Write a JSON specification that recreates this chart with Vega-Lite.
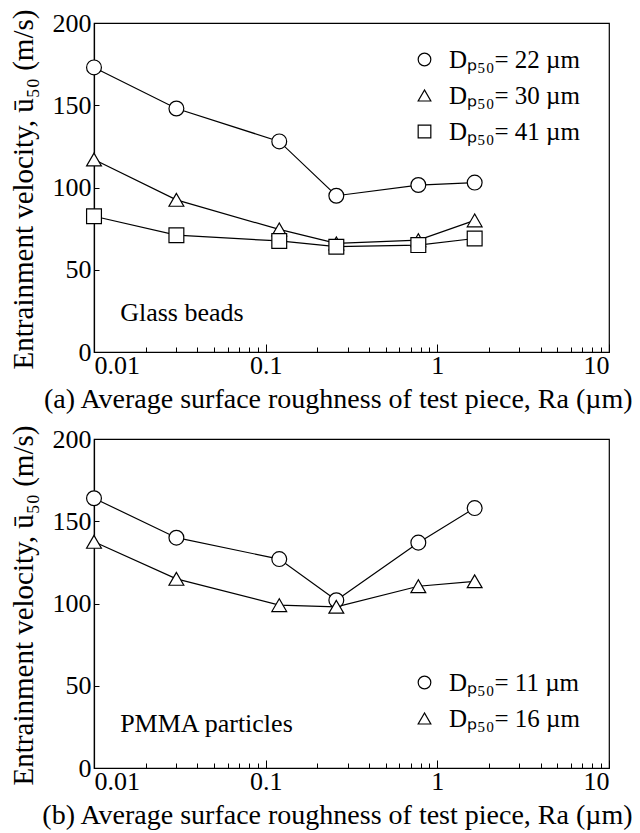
{
  "$schema": "https://vega.github.io/schema/vega-lite/v6.json",
  "padding": {"left": 8, "top": 8, "right": 5, "bottom": 5},
  "spacing": 10,
  "datasets": {
    "glass": [
      {"ra": 0.01, "u": 173, "series": "Dₚ₅₀= 22 µm"},
      {"ra": 0.0302, "u": 148, "series": "Dₚ₅₀= 22 µm"},
      {"ra": 0.12, "u": 128, "series": "Dₚ₅₀= 22 µm"},
      {"ra": 0.258, "u": 95, "series": "Dₚ₅₀= 22 µm"},
      {"ra": 0.775, "u": 101.5, "series": "Dₚ₅₀= 22 µm"},
      {"ra": 1.65, "u": 103, "series": "Dₚ₅₀= 22 µm"},
      {"ra": 0.01, "u": 117, "series": "Dₚ₅₀= 30 µm"},
      {"ra": 0.0302, "u": 92.5, "series": "Dₚ₅₀= 30 µm"},
      {"ra": 0.12, "u": 74.5, "series": "Dₚ₅₀= 30 µm"},
      {"ra": 0.258, "u": 66, "series": "Dₚ₅₀= 30 µm"},
      {"ra": 0.775, "u": 68, "series": "Dₚ₅₀= 30 µm"},
      {"ra": 1.65, "u": 80, "series": "Dₚ₅₀= 30 µm"},
      {"ra": 0.01, "u": 82.5, "series": "Dₚ₅₀= 41 µm"},
      {"ra": 0.0302, "u": 71, "series": "Dₚ₅₀= 41 µm"},
      {"ra": 0.12, "u": 67.5, "series": "Dₚ₅₀= 41 µm"},
      {"ra": 0.258, "u": 64, "series": "Dₚ₅₀= 41 µm"},
      {"ra": 0.775, "u": 65, "series": "Dₚ₅₀= 41 µm"},
      {"ra": 1.65, "u": 69, "series": "Dₚ₅₀= 41 µm"}
    ],
    "pmma": [
      {"ra": 0.01, "u": 164, "series": "Dₚ₅₀= 11 µm"},
      {"ra": 0.0302, "u": 140, "series": "Dₚ₅₀= 11 µm"},
      {"ra": 0.12, "u": 127, "series": "Dₚ₅₀= 11 µm"},
      {"ra": 0.258, "u": 102, "series": "Dₚ₅₀= 11 µm"},
      {"ra": 0.775, "u": 137, "series": "Dₚ₅₀= 11 µm"},
      {"ra": 1.65, "u": 158, "series": "Dₚ₅₀= 11 µm"},
      {"ra": 0.01, "u": 137.5, "series": "Dₚ₅₀= 16 µm"},
      {"ra": 0.0302, "u": 115, "series": "Dₚ₅₀= 16 µm"},
      {"ra": 0.12, "u": 99, "series": "Dₚ₅₀= 16 µm"},
      {"ra": 0.258, "u": 98, "series": "Dₚ₅₀= 16 µm"},
      {"ra": 0.775, "u": 110.5, "series": "Dₚ₅₀= 16 µm"},
      {"ra": 1.65, "u": 113.5, "series": "Dₚ₅₀= 16 µm"}
    ]
  },
  "resolve": {"scale": {"shape": "independent"}, "legend": {"shape": "independent"}},
  "vconcat": [
    {
      "width": 515,
      "height": 329,
      "data": {"name": "glass"},
      "layer": [
        {
          "mark": {"type": "line", "color": "black", "strokeWidth": 1.2},
          "encoding": {
            "x": {"field": "ra", "type": "quantitative", "scale": {"type": "log", "domain": [0.01, 10], "nice": false},
              "axis": {"title": "(a) Average surface roughness of test piece, Ra (µm)",
                "values": [0.01,0.02,0.03,0.04,0.05,0.06,0.07,0.08,0.09,0.1,0.2,0.3,0.4,0.5,0.6,0.7,0.8,0.9,1,2,3,4,5,6,7,8,9,10],
                "labelExpr": "abs(log(datum.value)/LN10 - round(log(datum.value)/LN10)) < 0.001 ? format(datum.value, '~g') : ''",
                "tickSize": {"condition": {"test": "abs(log(datum.value)/LN10 - round(log(datum.value)/LN10)) < 0.001", "value": -8}, "value": -5},
                "titleX": 538, "titleY": 55, "titleAlign": "right", "titleBaseline": "alphabetic"}},
            "y": {"field": "u", "type": "quantitative", "scale": {"domain": [0, 200], "nice": false},
              "axis": {"title": "Entrainment velocity, ū₅₀ (m/s)", "values": [0, 50, 100, 150, 200], "tickSize": -5, "titleFontSize": 29,
                "titleX": -62, "titleY": 166, "titleAlign": "center", "titleBaseline": "alphabetic", "titleAngle": -90}},
            "detail": {"field": "series"}
          }
        },
        {
          "mark": {"type": "point", "filled": false, "fill": "white", "color": "black", "strokeWidth": 1.2, "opacity": 1, "size": 220},
          "encoding": {
            "x": {"field": "ra", "type": "quantitative"},
            "y": {"field": "u", "type": "quantitative"},
            "shape": {"field": "series", "type": "nominal",
              "scale": {"domain": ["Dₚ₅₀= 22 µm", "Dₚ₅₀= 30 µm", "Dₚ₅₀= 41 µm"], "range": ["circle", "triangle-up", "square"]},
              "legend": {"orient": "none", "legendX": 318, "legendY": 24, "title": null}}
          }
        },
        {
          "data": {"values": [{}]},
          "mark": {"type": "text", "align": "left", "baseline": "middle", "fontSize": 26, "font": "Liberation Serif"},
          "encoding": {"x": {"datum": 0.0142, "type": "quantitative"}, "y": {"datum": 24, "type": "quantitative"}, "text": {"value": "Glass beads"}}
        }
      ]
    },
    {
      "width": 515,
      "height": 329,
      "data": {"name": "pmma"},
      "layer": [
        {
          "mark": {"type": "line", "color": "black", "strokeWidth": 1.2},
          "encoding": {
            "x": {"field": "ra", "type": "quantitative", "scale": {"type": "log", "domain": [0.01, 10], "nice": false},
              "axis": {"title": "(b) Average surface roughness of test piece, Ra (µm)",
                "values": [0.01,0.02,0.03,0.04,0.05,0.06,0.07,0.08,0.09,0.1,0.2,0.3,0.4,0.5,0.6,0.7,0.8,0.9,1,2,3,4,5,6,7,8,9,10],
                "labelExpr": "abs(log(datum.value)/LN10 - round(log(datum.value)/LN10)) < 0.001 ? format(datum.value, '~g') : ''",
                "tickSize": {"condition": {"test": "abs(log(datum.value)/LN10 - round(log(datum.value)/LN10)) < 0.001", "value": -8}, "value": -5},
                "titleX": 538, "titleY": 55, "titleAlign": "right", "titleBaseline": "alphabetic"}},
            "y": {"field": "u", "type": "quantitative", "scale": {"domain": [0, 200], "nice": false},
              "axis": {"title": "Entrainment velocity, ū₅₀ (m/s)", "values": [0, 50, 100, 150, 200], "tickSize": -5, "titleFontSize": 29,
                "titleX": -62, "titleY": 166, "titleAlign": "center", "titleBaseline": "alphabetic", "titleAngle": -90}},
            "detail": {"field": "series"}
          }
        },
        {
          "mark": {"type": "point", "filled": false, "fill": "white", "color": "black", "strokeWidth": 1.2, "opacity": 1, "size": 220},
          "encoding": {
            "x": {"field": "ra", "type": "quantitative"},
            "y": {"field": "u", "type": "quantitative"},
            "shape": {"field": "series", "type": "nominal",
              "scale": {"domain": ["Dₚ₅₀= 11 µm", "Dₚ₅₀= 16 µm"], "range": ["circle", "triangle-up"]},
              "legend": {"orient": "none", "legendX": 318, "legendY": 231, "title": null}}
          }
        },
        {
          "data": {"values": [{}]},
          "mark": {"type": "text", "align": "left", "baseline": "middle", "fontSize": 26, "font": "Liberation Serif"},
          "encoding": {"x": {"datum": 0.0142, "type": "quantitative"}, "y": {"datum": 26.5, "type": "quantitative"}, "text": {"value": "PMMA particles"}}
        }
      ]
    }
  ],
  "config": {
    "font": "Liberation Serif",
    "background": "white",
    "view": {"stroke": "black", "strokeWidth": 1.2},
    "axis": {
      "grid": false,
      "domainColor": "black", "domainWidth": 1.2,
      "tickColor": "black", "tickWidth": 1,
      "labelColor": "black", "labelFont": "Liberation Serif", "labelFontSize": 26, "labelPadding": 8,
      "titleColor": "black", "titleFont": "Liberation Serif", "titleFontSize": 28, "titleFontWeight": "normal"
    },
    "legend": {
      "padding": 0,
      "labelFont": "Liberation Serif", "labelFontSize": 25, "labelColor": "black",
      "symbolSize": 160, "symbolStrokeWidth": 1.2,
      "labelOffset": 12, "rowPadding": 10
    }
  }
}
